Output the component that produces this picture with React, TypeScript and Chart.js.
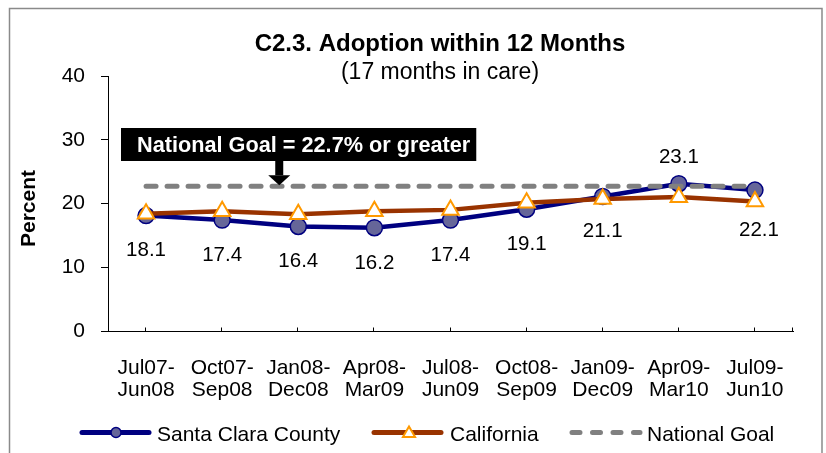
import React, { useEffect, useRef } from 'react';
import { Chart, registerables } from 'chart.js';

Chart.register(...registerables);

// ---- data ----
const categories: string[][] = [
  ['Jul07-', 'Jun08'],
  ['Oct07-', 'Sep08'],
  ['Jan08-', 'Dec08'],
  ['Apr08-', 'Mar09'],
  ['Jul08-', 'Jun09'],
  ['Oct08-', 'Sep09'],
  ['Jan09-', 'Dec09'],
  ['Apr09-', 'Mar10'],
  ['Jul09-', 'Jun10'],
];
const santaClara = [18.1, 17.4, 16.4, 16.2, 17.4, 19.1, 21.1, 23.1, 22.1];
const california = [18.4, 18.8, 18.3, 18.8, 19.0, 20.1, 20.7, 21.0, 20.3];
const nationalGoal = [22.7, 22.7, 22.7, 22.7, 22.7, 22.7, 22.7, 22.7, 22.7];
const yTickValues = [0, 10, 20, 30, 40];

const titleText = 'C2.3. Adoption within 12 Months';
const subtitleText = '(17 months in care)';
const yAxisTitle = 'Percent';
const goalNote = 'National Goal = 22.7% or greater';
const seriesNames = ['Santa Clara County', 'California', 'National Goal'];

// ---- style ----
const FONT = '"Liberation Sans", Arial, Helvetica, sans-serif';
const NAVY = '#000080';
const NAVY_FILL = '#666699';
const BROWN = '#993300';
const ORANGE = '#FF9900';
const GRAY = '#808080';
const labelAbove = [false, false, false, false, false, false, false, true, false];

function drawTriangle(ctx: CanvasRenderingContext2D, cx: number, cy: number, r: number) {
  ctx.beginPath();
  ctx.moveTo(cx, cy - r);
  ctx.lineTo(cx + r * 0.866, cy + r * 0.5);
  ctx.lineTo(cx - r * 0.866, cy + r * 0.5);
  ctx.closePath();
  ctx.fillStyle = '#ffffff';
  ctx.fill();
  ctx.strokeStyle = ORANGE;
  ctx.lineWidth = 2;
  ctx.stroke();
}

const decorPlugin = {
  id: 'decor',
  afterDraw(chart: any) {
    const ctx: CanvasRenderingContext2D = chart.ctx;
    const xs = chart.scales.x;
    const ys = chart.scales.y;
    const area = chart.chartArea;
    ctx.save();

    // outer frame
    ctx.strokeStyle = '#8a8a8a';
    ctx.lineWidth = 1.5;
    ctx.strokeRect(9.5, 8.5, 812.5, 470);

    // titles
    ctx.fillStyle = '#000';
    ctx.textAlign = 'center';
    ctx.textBaseline = 'alphabetic';
    ctx.font = `bold 24px ${FONT}`;
    ctx.fillText(titleText, 440, 51);
    ctx.font = `23px ${FONT}`;
    ctx.fillText(subtitleText, 440, 79);

    // y axis title
    ctx.save();
    ctx.translate(35, 208.5);
    ctx.rotate(-Math.PI / 2);
    ctx.font = `bold 21px ${FONT}`;
    ctx.fillText(yAxisTitle, 0, 0);
    ctx.restore();

    // x tick marks (inside)
    ctx.strokeStyle = '#000';
    ctx.lineWidth = 1;
    const bottom = Math.round(area.bottom) + 0.5;
    const tickXs: number[] = categories.map((_, i) => xs.getPixelForValue(i));
    tickXs.push(area.right);
    tickXs.forEach((px) => {
      const x = Math.round(px) - 0.5;
      ctx.beginPath();
      ctx.moveTo(x, bottom);
      ctx.lineTo(x, bottom - 4);
      ctx.stroke();
    });

    // data labels for Santa Clara County
    ctx.fillStyle = '#000';
    ctx.font = `20.5px ${FONT}`;
    ctx.textAlign = 'center';
    santaClara.forEach((v, i) => {
      const px = xs.getPixelForValue(i);
      const py = ys.getPixelForValue(v);
      const last = i === santaClara.length - 1;
      const cy = labelAbove[i] ? py - 28 : py + (last ? 39 : 33.5);
      const cx = last ? px + 4 : px;
      ctx.fillText(v.toFixed(1), cx, cy + 7.3);
    });

    // national goal annotation box
    ctx.font = `bold 21.7px ${FONT}`;
    const tw = ctx.measureText(goalNote).width;
    const boxL = 121, boxT = 128, boxH = 33;
    ctx.fillStyle = '#000';
    ctx.fillRect(boxL, boxT, tw + 22, boxH);
    ctx.fillStyle = '#fff';
    ctx.textAlign = 'left';
    ctx.fillText(goalNote, boxL + 16, boxT + 24);

    // arrow
    const ax = xs.getPixelForValue(1.75);
    const tipY = ys.getPixelForValue(nationalGoal[2]) - 1;
    ctx.fillStyle = '#000';
    ctx.fillRect(ax - 4, boxT + boxH, 8, tipY - 10 - (boxT + boxH));
    ctx.beginPath();
    ctx.moveTo(ax - 11, tipY - 10);
    ctx.lineTo(ax + 11, tipY - 10);
    ctx.lineTo(ax, tipY);
    ctx.closePath();
    ctx.fill();

    // legend
    const ly = 432.5;
    const tb = 440.5;
    ctx.lineCap = 'round';
    ctx.lineWidth = 5;
    // Santa Clara
    ctx.strokeStyle = NAVY;
    ctx.beginPath();
    ctx.moveTo(82, ly);
    ctx.lineTo(149, ly);
    ctx.stroke();
    ctx.beginPath();
    ctx.arc(116, ly, 5, 0, Math.PI * 2);
    ctx.fillStyle = NAVY_FILL;
    ctx.fill();
    ctx.lineWidth = 1.5;
    ctx.stroke();
    // California
    ctx.lineWidth = 5;
    ctx.strokeStyle = BROWN;
    ctx.beginPath();
    ctx.moveTo(374, ly);
    ctx.lineTo(441, ly);
    ctx.stroke();
    drawTriangle(ctx, 409, ly + 1, 7);
    // National goal
    ctx.lineWidth = 5;
    ctx.strokeStyle = GRAY;
    ctx.setLineDash([8, 12.5]);
    ctx.beginPath();
    ctx.moveTo(572, ly);
    ctx.lineTo(640, ly);
    ctx.stroke();
    ctx.setLineDash([]);

    ctx.fillStyle = '#000';
    ctx.font = `21px ${FONT}`;
    ctx.textAlign = 'left';
    ctx.fillText(seriesNames[0], 157, tb);
    ctx.fillText(seriesNames[1], 450, tb);
    ctx.fillText(seriesNames[2], 647, tb);

    ctx.restore();
  },
};

export default function App() {
  const canvasRef = useRef<HTMLCanvasElement | null>(null);

  useEffect(() => {
    const canvas = canvasRef.current;
    if (!canvas) return;
    const chart = new Chart(canvas, {
      type: 'line',
      data: {
        labels: categories,
        datasets: [
          {
            label: seriesNames[1],
            data: california,
            borderColor: BROWN,
            borderWidth: 4.5,
            pointStyle: 'triangle',
            pointRadius: 9.5,
            pointBorderWidth: 2,
            pointBackgroundColor: '#ffffff',
            pointBorderColor: ORANGE,
            tension: 0,
            order: 0,
          },
          {
            label: seriesNames[2],
            data: nationalGoal,
            borderColor: GRAY,
            borderWidth: 5,
            borderDash: [10, 11],
            borderCapStyle: 'round',
            pointRadius: 0,
            tension: 0,
            order: 1,
          },
          {
            label: seriesNames[0],
            data: santaClara,
            borderColor: NAVY,
            borderWidth: 4.5,
            pointStyle: 'circle',
            pointRadius: 8,
            pointBorderWidth: 1.5,
            pointBackgroundColor: NAVY_FILL,
            pointBorderColor: NAVY,
            tension: 0,
            order: 2,
          },
        ],
      },
      options: {
        responsive: false,
        animation: false,
        devicePixelRatio: 1,
        layout: { padding: { left: 0, top: 76, right: 33, bottom: 0 } },
        plugins: {
          legend: { display: false },
          title: { display: false },
          tooltip: { enabled: false },
        },
        scales: {
          x: {
            type: 'category',
            offset: true,
            grid: { display: false, drawTicks: false },
            border: { display: true, color: '#000', width: 1 },
            ticks: {
              color: '#000',
              font: { family: FONT, size: 21, lineHeight: '22px' },
              padding: 26,
              maxRotation: 0,
              autoSkip: false,
            },
            afterFit: (scale: any) => {
              scale.height = 122;
            },
          },
          y: {
            min: 0,
            max: 40,
            afterBuildTicks: (scale: any) => {
              scale.ticks = yTickValues.map((v) => ({ value: v }));
            },
            grid: {
              display: true,
              drawOnChartArea: false,
              drawTicks: true,
              tickLength: 7,
              color: '#000',
              lineWidth: 1,
            },
            border: { display: true, color: '#000', width: 1 },
            ticks: {
              color: '#000',
              font: { family: FONT, size: 21 },
              padding: 16,
            },
            afterFit: (scale: any) => {
              scale.width = 108;
            },
          },
        },
      },
      plugins: [decorPlugin],
    });
    return () => chart.destroy();
  }, []);

  return (
    <div style={{ position: 'fixed', left: 0, top: 0, width: 826, height: 453, background: '#fff' }}>
      <canvas ref={canvasRef} width={826} height={453} style={{ display: 'block' }} />
    </div>
  );
}
